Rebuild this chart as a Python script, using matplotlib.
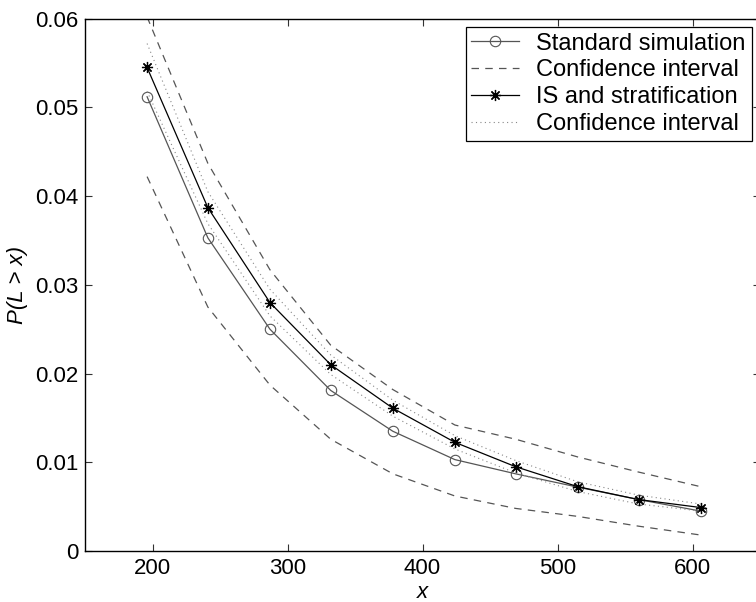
import numpy as np
import matplotlib
matplotlib.use("Agg")
import matplotlib.pyplot as plt
from matplotlib.ticker import FuncFormatter

plt.rcParams['font.family'] = ['Liberation Sans', 'DejaVu Sans']
plt.rcParams['font.size'] = 16

# loss thresholds x
x = [196, 241, 287, 332, 378, 424, 469, 515, 560, 606]

# standard simulation with its confidence interval (dashed)
p_std = [0.0512, 0.0353, 0.0250, 0.0181, 0.0135, 0.0103, 0.0087, 0.0072, 0.0058, 0.0045]
std_hi = [0.0602, 0.0437, 0.0317, 0.0232, 0.0182, 0.0142, 0.0126, 0.0106, 0.0089, 0.00725]
std_lo = [0.0422, 0.0275, 0.0187, 0.0126, 0.0087, 0.0062, 0.0048, 0.0039, 0.0028, 0.0018]

# importance sampling + stratification with its confidence interval (dotted)
p_is = [0.0545, 0.0387, 0.0280, 0.0210, 0.0161, 0.01225, 0.0095, 0.00725, 0.0058, 0.0049]
is_hi = [0.0572, 0.0405, 0.0295, 0.0221, 0.0170, 0.0130, 0.0102, 0.0078, 0.0063, 0.0053]
is_lo = [0.0518, 0.0369, 0.0265, 0.0199, 0.0152, 0.0115, 0.0088, 0.0067, 0.0053, 0.0045]

labels = ["Standard simulation", "Confidence interval",
          "IS and stratification", "Confidence interval"]

fig = plt.figure(figsize=(7.56, 6.02), dpi=100)
# right edge of the box falls just outside the picture, as in the original
ax = fig.add_axes([85 / 756, 1 - 551 / 602, 675 / 756, (551 - 18.7) / 602])

asterisk = (8, 2, 0)
l1, = ax.plot(x, p_std, color="#555555", lw=0.9, marker="o", ms=7.5,
              mfc="none", mec="#555555", mew=0.8)
l2, = ax.plot(x, std_hi, color="#555555", lw=0.9, ls=(0, (6, 5)))
ax.plot(x, std_lo, color="#555555", lw=0.9, ls=(0, (6, 5)))
l3, = ax.plot(x, p_is, color="black", lw=0.9, marker=asterisk, ms=8,
              mec="black", mew=0.9)
l4, = ax.plot(x, is_hi, color="#888888", lw=0.8, ls=(0, (1, 3)))
ax.plot(x, is_lo, color="#888888", lw=0.8, ls=(0, (1, 3)))

ax.set_xlim(150, 650)
ax.set_ylim(0, 0.06)
ax.set_xticks([200, 300, 400, 500, 600])
ax.set_yticks([0, 0.01, 0.02, 0.03, 0.04, 0.05, 0.06])
ax.yaxis.set_major_formatter(FuncFormatter(lambda v, p: "0" if v == 0 else f"{v:.2f}"))
ax.tick_params(direction="in", length=5, width=0.8, top=True, right=True,
               labelsize=16, pad=5, color="#333333")
for s in ax.spines.values():
    s.set_linewidth(1.0)
    s.set_color("black")

ax.set_xlabel("x", style="italic", fontsize=16)
ax.xaxis.set_label_coords(0.5, -0.058)
ax.set_ylabel("P(L > x)", style="italic", fontsize=16)
ax.yaxis.set_label_coords(-0.085, 0.5)

leg = ax.legend([l1, l2, l3, l4], labels, loc="upper right",
                bbox_to_anchor=(751.7 / 756, 1 - 26.7 / 602),
                bbox_transform=fig.transFigure, borderaxespad=0,
                fancybox=False, framealpha=1, edgecolor="black",
                handlelength=2.0, handletextpad=0.75, labelspacing=0.2,
                borderpad=0.25, fontsize=17)
leg.get_frame().set_linewidth(0.9)

fig.savefig("out.png", dpi=100)
